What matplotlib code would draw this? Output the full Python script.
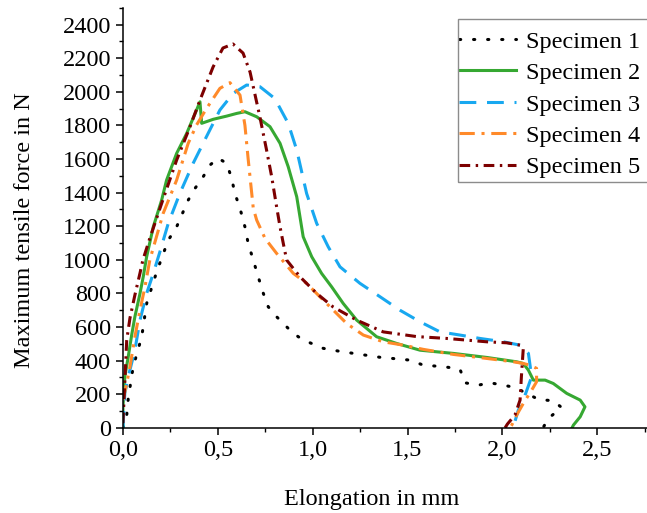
import matplotlib
matplotlib.use('Agg')
import matplotlib.pyplot as plt
from matplotlib.patches import Rectangle
from matplotlib.ticker import MultipleLocator, FuncFormatter

# elongation (mm) / force (N)
x1 = [0.0, 0.01, 0.02, 0.028, 0.054, 0.099, 0.125, 0.178, 0.239, 0.283, 0.344, 0.38, 0.423, 0.459, 0.502,
      0.547, 0.573, 0.59, 0.617, 0.643, 0.66, 0.687, 0.713, 0.74, 0.766, 0.81, 0.871, 0.924, 0.986, 1.056,
      1.144, 1.354, 1.513, 1.583, 1.654, 1.715, 1.777, 1.803, 1.873, 1.935, 2.005, 2.066, 2.128, 2.19, 2.268,
      2.312, 2.242, 2.214]
y1 = [0, 26, 76, 175, 363, 542, 740, 929, 1117, 1196, 1355, 1425, 1494, 1564, 1604,
      1574, 1484, 1395, 1306, 1196, 1098, 998, 899, 800, 720, 661, 592, 542, 506, 473,
      455, 420, 403, 373, 367, 360, 347, 268, 254, 268, 254, 240, 205, 169, 161,
      121, 56, 0]

x2 = [0.0, 0.0, 0.01, 0.028, 0.046, 0.063, 0.09, 0.107, 0.125, 0.16, 0.204, 0.23, 0.283, 0.336, 0.388,
      0.406, 0.415, 0.476, 0.547, 0.6, 0.643, 0.705, 0.775, 0.828, 0.871, 0.916, 0.933, 0.95, 0.995, 1.047,
      1.1, 1.161, 1.232, 1.337, 1.443, 1.566, 1.741, 1.917, 2.075, 2.11, 2.137, 2.163, 2.225, 2.268, 2.339,
      2.41, 2.435, 2.41, 2.374, 2.367]
y2 = [0, 125, 304, 423, 552, 661, 800, 899, 1018, 1196, 1355, 1474, 1633, 1752, 1891,
      1940, 1812, 1836, 1855, 1871, 1881, 1851, 1792, 1693, 1554, 1375, 1256, 1137, 1018, 919,
      839, 740, 641, 542, 502, 462, 443, 419, 393, 383, 343, 284, 284, 264, 205,
      165, 125, 66, 16, 0]

x3 = [0.0, 0.01, 0.028, 0.063, 0.09, 0.125, 0.16, 0.195, 0.239, 0.3, 0.37, 0.44, 0.511, 0.581, 0.652,
      0.722, 0.8, 0.871, 0.916, 0.968, 1.021, 1.082, 1.144, 1.249, 1.355, 1.46, 1.566, 1.671, 1.777, 1.882,
      2.005, 2.093, 2.137, 2.154, 2.11, 2.084, 2.056]
y3 = [0, 205, 304, 462, 641, 800, 919, 1048, 1217, 1395, 1574, 1732, 1891, 1990, 2040,
      2030, 1960, 1812, 1653, 1395, 1217, 1077, 958, 860, 780, 700, 631, 571, 552, 532,
      512, 492, 443, 304, 165, 106, 0]

x4 = [0.0, 0.02, 0.037, 0.063, 0.09, 0.116, 0.142, 0.212, 0.283, 0.344, 0.388, 0.441, 0.511, 0.564, 0.617,
      0.643, 0.66, 0.687, 0.705, 0.749, 0.81, 0.898, 0.968, 1.038, 1.109, 1.179, 1.267, 1.372, 1.478, 1.583,
      1.741, 1.917, 2.058, 2.11, 2.145, 2.18, 2.18, 2.154, 2.11, 2.075, 2.049, 2.04]
y4 = [165, 264, 363, 542, 700, 839, 1000, 1276, 1474, 1693, 1802, 1901, 2020, 2054, 1980,
      1800, 1600, 1306, 1236, 1127, 1038, 919, 860, 780, 700, 621, 552, 512, 492, 467,
      437, 413, 393, 383, 373, 354, 274, 224, 145, 76, 16, 0]

x5 = [0.0, 0.02, 0.037, 0.063, 0.09, 0.105, 0.142, 0.21, 0.283, 0.353, 0.406, 0.475, 0.527, 0.58, 0.633,
      0.67, 0.722, 0.757, 0.784, 0.81, 0.828, 0.845, 0.863, 0.933, 1.021, 1.107, 1.232, 1.372, 1.548, 1.706,
      1.917, 2.023, 2.093, 2.11, 2.10, 2.093, 2.066, 2.026, 2.014]
y5 = [28, 522, 653, 790, 921, 998, 1129, 1355, 1593, 1790, 1950, 2147, 2260, 2284, 2230,
      2117, 1849, 1653, 1494, 1315, 1196, 1098, 998, 899, 800, 720, 641, 571, 543, 532,
      512, 506, 492, 473, 304, 165, 76, 22, 0]

labels = ['Specimen 1', 'Specimen 2', 'Specimen 3', 'Specimen 4', 'Specimen 5']

plt.rcParams['font.family'] = ['Liberation Serif', 'DejaVu Serif']

W, H = 647, 513
fig = plt.figure(figsize=(W / 100, H / 100), dpi=100)
ax = fig.add_axes([0.190, 0.166, 0.81, 0.819])

ax.plot(x1, y1, color='black', lw=2.2, ls=(0, (0.4, 4.2)), dash_capstyle='round', label=labels[0])
ax.plot(x2, y2, color='#36a832', lw=2.2, ls='-', label=labels[1])
ax.plot(x3, y3, color='#18a8f0', lw=2.2, ls=(0, (5.5, 3.5)), label=labels[2])
ax.plot(x4, y4, color='#ff8a2a', lw=2.2, ls=(0, (5, 2.2, 1, 2.2)), label=labels[3])
ax.plot(x5, y5, color='#7c0000', lw=2.2, ls=(0, (3.5, 1.8, 0.8, 1.8)), label=labels[4])

ax.set_xlim(0, 2.762)
ax.set_ylim(0, 2500)
ax.xaxis.set_major_locator(MultipleLocator(0.5))
ax.xaxis.set_minor_locator(MultipleLocator(0.25))
ax.yaxis.set_minor_locator(MultipleLocator(100))
ax.xaxis.set_major_formatter(FuncFormatter(lambda v, p: f'{v:.1f}'.replace('.', ',')))
ax.set_yticks(list(range(0, 2401, 200)))

for s in ['top', 'right']:
    ax.spines[s].set_visible(False)
for s in ['left', 'bottom']:
    ax.spines[s].set_linewidth(1.1)
ax.tick_params(which='major', direction='out', length=5, width=1.1, labelsize=17.5)
ax.tick_params(which='minor', direction='out', length=3, width=1.0)

ax.set_xlabel('Elongation in mm', fontsize=17.5)
ax.set_ylabel('Maximum tensile force in N', fontsize=17.5)
ax.xaxis.set_label_coords(0.474, -0.145)
ax.yaxis.set_label_coords(-0.168, 0.47)

# legend box runs off the right edge, as in the cropped original
fig.patches.append(Rectangle((457.7 / W, 1 - 181.7 / H), 0.5, (181.7 - 19) / H,
                             transform=fig.transFigure, fill=False, ec='#8c8c8c', lw=1.0))
leg = ax.legend(loc='upper left', bbox_to_anchor=(459 / W, 1 - 30.5 / H), bbox_transform=fig.transFigure,
                fontsize=17.5, frameon=False, handlelength=2.33, handletextpad=0.41,
                labelspacing=0.39, borderpad=0, borderaxespad=0)

fig.savefig('out.png', dpi=100)
